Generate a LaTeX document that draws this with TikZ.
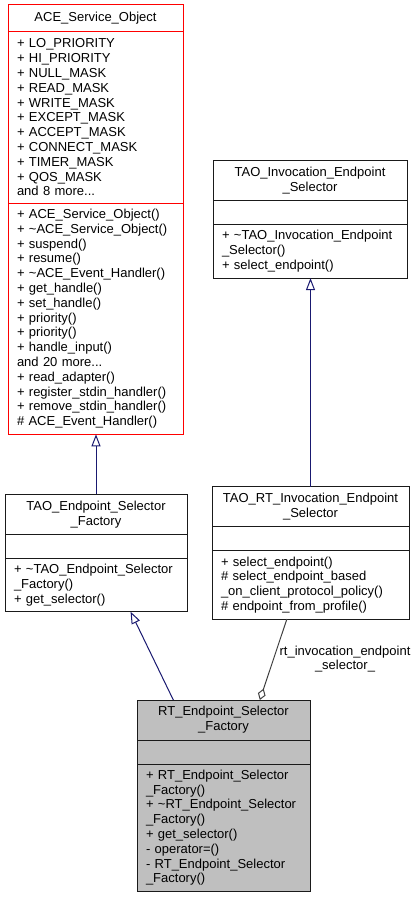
\documentclass[tikz,border=0pt]{standalone}
\usepackage{fontspec}
\setmainfont{Liberation Sans}
\usepackage{xcolor}
\usepackage{tikz}
\usetikzlibrary{calc,arrows.meta,positioning}
\definecolor{navyx}{HTML}{191970}
\definecolor{greyx}{HTML}{404040}
\definecolor{redx}{HTML}{FF0000}
\definecolor{inkx}{HTML}{1A1A1A}
\definecolor{curbg}{HTML}{BFBFBF}
\newcommand{\umlfont}{\fontsize{13pt}{14.8pt}\selectfont}
\tikzset{
  clspart/.style={draw=inkx,line width=1pt,fill=white,inner xsep=9pt,inner ysep=0pt,outer sep=0pt,text width=#1,font=\umlfont,align=left},
  clshead/.style={clspart=#1,align=center},
  inhe/.style={-{Triangle[open,length=12pt,width=9pt]},line width=1pt,navyx},
  aggr/.style={-{Diamond[open,length=12pt,width=8pt]},line width=1pt,greyx}
}
\begin{document}
\begin{tikzpicture}[x=1pt,y=-1pt]
\useasboundingbox (0,0) rectangle (419,899);
% ACE_Service_Object
\node[clshead=157,draw=redx,minimum height=27pt,anchor=north] (aceT) at (95.5,4.5) {ACE\_Service\_Object};
\node[clspart=157,draw=redx,minimum height=171.8pt,below=0pt of aceT] (aceA) {+ LO\_PRIORITY\\+ HI\_PRIORITY\\+ NULL\_MASK\\+ READ\_MASK\\+ WRITE\_MASK\\+ EXCEPT\_MASK\\+ ACCEPT\_MASK\\+ CONNECT\_MASK\\+ TIMER\_MASK\\+ QOS\_MASK\\and 8 more...};
\node[clspart=157,draw=redx,minimum height=231pt,below=0pt of aceA] (aceM) {+ ACE\_Service\_Object()\\+ \textasciitilde ACE\_Service\_Object()\\+ suspend()\\+ resume()\\+ \textasciitilde ACE\_Event\_Handler()\\+ get\_handle()\\+ set\_handle()\\+ priority()\\+ priority()\\+ handle\_input()\\and 20 more...\\+ read\_adapter()\\+ register\_stdin\_handler()\\+ remove\_stdin\_handler()\\\# ACE\_Event\_Handler()};
% TAO_Invocation_Endpoint_Selector
\node[clshead=176,minimum height=40pt,anchor=north] (invT) at (310,160.7) {TAO\_Invocation\_Endpoint\\\_Selector};
\node[clspart=176,minimum height=24pt,below=0pt of invT] (invA) {};
\node[clspart=176,minimum height=53.4pt,below=0pt of invA] (invM) {+ \textasciitilde TAO\_Invocation\_Endpoint\\\_Selector()\\+ select\_endpoint()};
% TAO_Endpoint_Selector_Factory
\node[clshead=164,minimum height=40pt,anchor=north] (esfT) at (96,494.3) {TAO\_Endpoint\_Selector\\\_Factory};
\node[clspart=164,minimum height=24pt,below=0pt of esfT] (esfA) {};
\node[clspart=164,minimum height=53.4pt,below=0pt of esfA] (esfM) {+ \textasciitilde TAO\_Endpoint\_Selector\\\_Factory()\\+ get\_selector()};
% TAO_RT_Invocation_Endpoint_Selector
\node[clshead=179,minimum height=40pt,anchor=north] (rtT) at (310.5,486.9) {TAO\_RT\_Invocation\_Endpoint\\\_Selector};
\node[clspart=179,minimum height=24pt,below=0pt of rtT] (rtA) {};
\node[clspart=179,minimum height=68.2pt,below=0pt of rtA] (rtM) {+ select\_endpoint()\\\# select\_endpoint\_based\\\_on\_client\_protocol\_policy()\\\# endpoint\_from\_profile()};
% RT_Endpoint_Selector_Factory
\node[clshead=155,fill=curbg,minimum height=40pt,anchor=north] (rfT) at (223.5,700) {RT\_Endpoint\_Selector\\\_Factory};
\node[clspart=155,fill=curbg,minimum height=24pt,below=0pt of rfT] (rfA) {};
\node[clspart=155,fill=curbg,minimum height=127.4pt,below=0pt of rfA] (rfM) {+ RT\_Endpoint\_Selector\\\_Factory()\\+ \textasciitilde RT\_Endpoint\_Selector\\\_Factory()\\+ get\_selector()\\- operator=()\\- RT\_Endpoint\_Selector\\\_Factory()};
% edges
\draw[inhe] (esfT.north) -- (esfT.north |- aceM.south);
\draw[inhe] (rtT.north) -- (rtT.north |- invM.south);
\coordinate (rfIn) at ($(rfT.north west)!0.21!(rfT.north east)$);
\coordinate (esfOut) at ($(esfM.south west)!0.69!(esfM.south east)$);
\draw[inhe] (rfIn) -- (esfOut);
\coordinate (rtOut) at ($(rtM.south west)!0.38!(rtM.south east)$);
\coordinate (rfAgg) at ($(rfT.north west)!0.71!(rfT.north east)$);
\draw[aggr] (rtOut) -- (rfAgg);
\node[font=\umlfont,align=center] (rtLbl) at (345,659) {rt\_invocation\_endpoint\\\_selector\_};
\end{tikzpicture}
\end{document}
